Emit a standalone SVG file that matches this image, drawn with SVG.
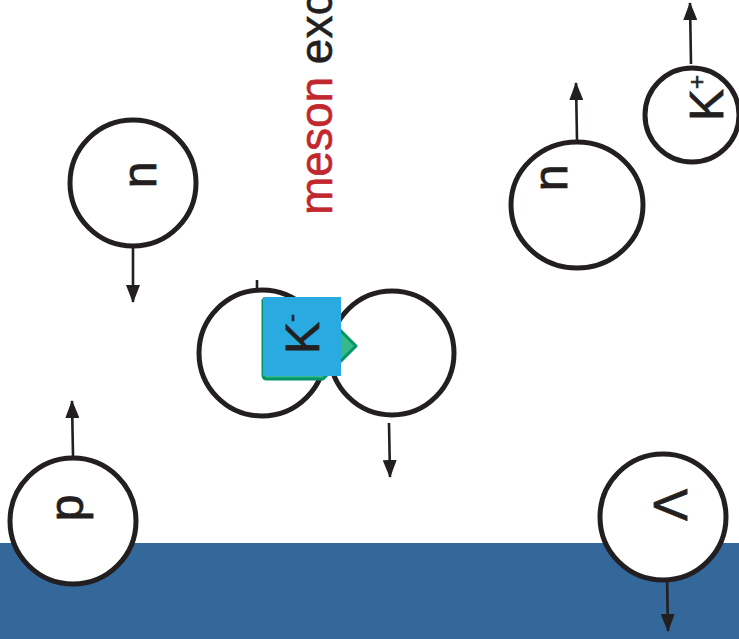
<svg xmlns="http://www.w3.org/2000/svg" width="739" height="639" viewBox="0 0 739 639">
  <defs>
    <marker id="head" viewBox="0 0 18 14" refX="17" refY="7" markerWidth="18" markerHeight="14" markerUnits="userSpaceOnUse" orient="auto">
      <path d="M0,0 L18,7 L0,14 Z" fill="#231f20"/>
    </marker>
  </defs>
  <style>
    .ball { fill: #ffffff; stroke: #231f20; stroke-width: 5; }
    .lbl { font-family: "Liberation Sans", Arial, sans-serif; font-size: 48px; fill: #231f20; stroke: #231f20; stroke-width: 0.8; text-anchor: middle; }
    .sup { font-family: "Liberation Sans", Arial, sans-serif; font-size: 24px; fill: #231f20; stroke: #231f20; stroke-width: 0.6; }
    .flow { stroke: #231f20; stroke-width: 2.6; fill: none; marker-end: url(#head); }
    .tick { stroke: #231f20; stroke-width: 2.6; fill: none; }
  </style>

  <rect x="0" y="0" width="739" height="639" fill="#ffffff"/>
  <!-- floor band -->
  <rect x="0" y="543" width="739" height="96" fill="#34679a"/>

  <!-- caption -->
  <text transform="translate(332,215) rotate(-90)" font-family="'Liberation Sans', Arial, sans-serif" font-size="46" fill="#c1272d" stroke="#c1272d" stroke-width="0.6">meson <tspan fill="#231f20" stroke="#231f20">exc</tspan></text>

  <!-- particle flows -->
  <g id="connectors">
    <line class="flow" x1="133" y1="247" x2="133" y2="302"/>
    <line class="flow" x1="577" y1="140" x2="576" y2="83"/>
    <line class="flow" x1="691" y1="64" x2="690" y2="3"/>
    <line class="flow" x1="389" y1="423" x2="390" y2="477"/>
    <line class="flow" x1="73" y1="456" x2="72" y2="401"/>
    <line class="flow" x1="667" y1="576" x2="668" y2="631"/>
    <line class="tick" x1="257" y1="280" x2="257" y2="290"/>
  </g>

  <g id="n-left">
    <circle class="ball" cx="133" cy="183" r="63"/>
    <text class="lbl" transform="translate(156,175) rotate(-90)">n</text>
  </g>

  <g id="n-right">
    <ellipse class="ball" cx="577" cy="205" rx="66" ry="63"/>
    <text class="lbl" transform="translate(567,178) rotate(-90)">n</text>
  </g>

  <g id="k-plus">
    <circle class="ball" cx="692" cy="115" r="47"/>
    <text transform="translate(723,121) rotate(-90)"><tspan class="lbl" style="text-anchor:start">K</tspan><tspan class="sup" dy="-18">+</tspan></text>
  </g>

  <g id="pair">
    <circle class="ball" cx="262" cy="353" r="63"/>
    <circle class="ball" cx="392" cy="353" r="62"/>
  </g>

  <g id="k-minus">
    <path d="M263,300 L323,300 L323,313 L356,346 L323,379 L267,379 Q263,379 263,375 Z" fill="#36b98b" stroke="#00966a" stroke-width="3" stroke-linejoin="round"/>
    <rect x="263" y="297" width="78" height="79" fill="#29abe2"/>
    <text transform="translate(319,354) rotate(-90)"><tspan class="lbl" style="text-anchor:start">K</tspan><tspan class="sup" dy="-20">-</tspan></text>
  </g>

  <g id="p">
    <circle class="ball" cx="73" cy="521" r="63"/>
    <text class="lbl" transform="translate(83,508) rotate(-90)">p</text>
  </g>

  <g id="lambda">
    <circle class="ball" cx="663" cy="517" r="63"/>
    <text class="lbl" transform="translate(687,505) rotate(-90)">Λ</text>
  </g>
</svg>
